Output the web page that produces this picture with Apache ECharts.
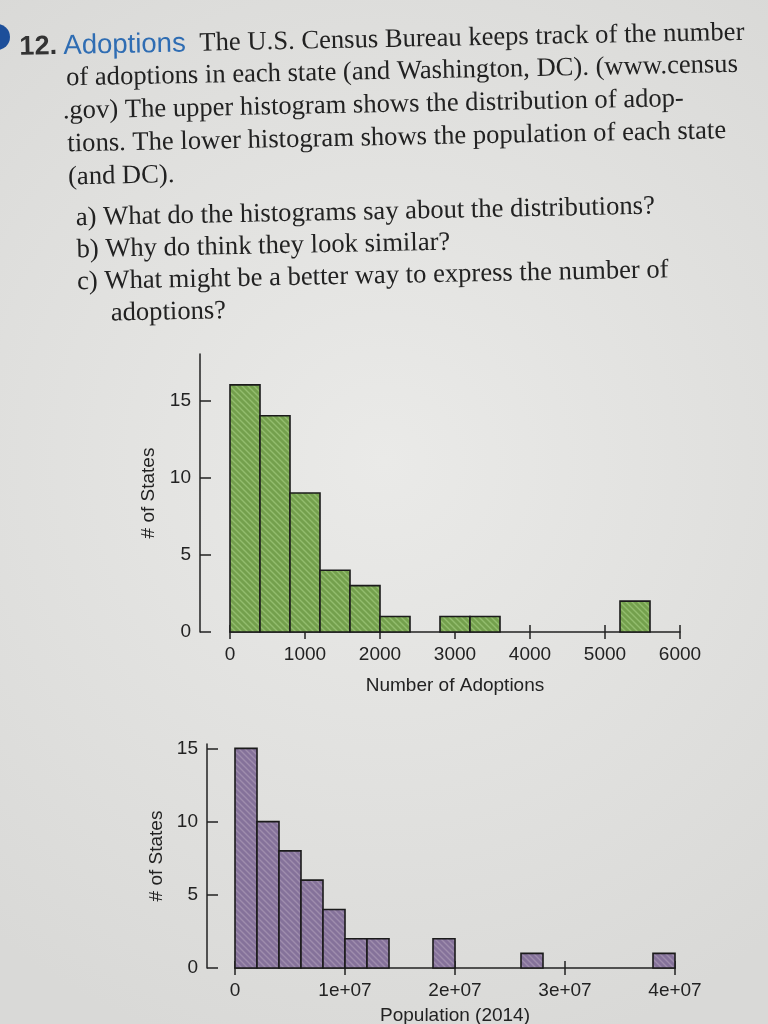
<!DOCTYPE html>
<html><head><meta charset="utf-8">
<script src="https://cdn.jsdelivr.net/npm/echarts@6/dist/echarts.min.js"></script>
<style>html,body{margin:0;padding:0;background:#e4e4e2}#c{width:768px;height:1024px}</style>
</head><body><div id="c"></div><script>
// ---- data ----
const adoptBinStart = [0,400,800,1200,1600,2000,2400,2800,3200,3600,4000,4400,4800,5200];
const adoptCounts   = [16,14,9,4,3,1,0,1,1,0,0,0,0,2];
const adoptBinWidth = 400;
const adoptTicks    = [0,1000,2000,3000,4000,5000,6000];

const popBinStart = [0,2e6,4e6,6e6,8e6,10e6,12e6,14e6,16e6,18e6,20e6,22e6,24e6,26e6,28e6,30e6,32e6,34e6,36e6,38e6];
const popCounts   = [15,10,8,6,4,2,2,0,0,2,0,0,0,1,0,0,0,0,0,1];
const popBinWidth = 2e6;
const popTicks      = [0,1e7,2e7,3e7,4e7];
const popTickLabels = ['0','1e+07','2e+07','3e+07','4e+07'];

const yTicks = [0,5,10,15];

const textLines = [
  'of adoptions in each state (and Washington, DC). (www.census',
  '.gov) The upper histogram shows the distribution of adop-',
  'tions. The lower histogram shows the population of each state',
  '(and DC).'
];
const questions = [
  'a) What do the histograms say about the distributions?',
  'b) Why do think they look similar?',
  'c) What might be a better way to express the number of',
  'adoptions?'
];

// ---- styles ----
function makePattern(bg, stripe){
  const c = document.createElement('canvas'); c.width = 6; c.height = 6;
  const g = c.getContext('2d');
  g.fillStyle = bg; g.fillRect(0,0,6,6);
  g.strokeStyle = stripe; g.lineWidth = 1.4;
  g.beginPath();
  g.moveTo(0,0); g.lineTo(6,6);
  g.moveTo(-3,3); g.lineTo(3,9);
  g.moveTo(3,-3); g.lineTo(9,3);
  g.stroke();
  return c;
}
const greenPat  = makePattern('#74a04d', '#93bd6e');
const purplePat = makePattern('#85729a', '#9f8dad');

const ink = '#222';
const sans = '"Liberation Sans", Arial, sans-serif';
const serif = '"Liberation Serif", "Times New Roman", serif';
const fs = 19;

function histSeries(starts, counts, width, xi, pat){
  return {
    type: 'custom', xAxisIndex: xi, yAxisIndex: xi,
    data: starts.map((s,i)=>[s, s+width, counts[i]]).filter(d=>d[2]>0),
    renderItem: function(params, api){
      const p0 = api.coord([api.value(0), api.value(2)]);
      const p1 = api.coord([api.value(1), 0]);
      return {type:'rect', shape:{x:p0[0], y:p0[1], width:p1[0]-p0[0], height:p1[1]-p0[1]},
        style:{fill:{image:pat, repeat:'repeat'}, stroke:'#1b1b1b', lineWidth:1.6}};
    },
    encode: {x:[0,1], y:2}
  };
}

function xAxes(grid, max, interval, name, nameGap, fmt){
  const base = {gridIndex:grid, type:'value', position:'bottom', min:0, max:max, interval:interval, splitLine:{show:false}};
  return [
    Object.assign({}, base, {
      axisLine:{show:true, onZero:false, lineStyle:{color:ink, width:1.5}},
      axisTick:{show:true, length:7, lineStyle:{color:ink, width:1.5}},
      axisLabel:{margin:13, color:ink, fontFamily:sans, fontSize:fs, formatter:fmt},
      name:name, nameLocation:'middle', nameGap:nameGap,
      nameTextStyle:{color:ink, fontFamily:sans, fontSize:fs}
    }),
    Object.assign({}, base, {
      axisLine:{show:false, onZero:false}, axisLabel:{show:false},
      axisTick:{show:true, inside:true, length:7, lineStyle:{color:ink, width:1.5}}
    })
  ];
}
function yAxis(grid, max, offset, nameGap){
  return {gridIndex:grid, type:'value', position:'left', min:0, max:max, interval:5, offset:offset,
    splitLine:{show:false},
    axisLine:{show:true, onZero:false, lineStyle:{color:ink, width:1.5}},
    axisTick:{show:true, inside:true, length:11, lineStyle:{color:ink, width:1.5}},
    axisLabel:{margin:9, color:ink, fontFamily:sans, fontSize:fs, showMaxLabel:false,
      formatter: v => yTicks.indexOf(v) >= 0 ? String(v) : ''},
    name:'# of States', nameLocation:'middle', nameGap:nameGap,
    nameTextStyle:{color:ink, fontFamily:sans, fontSize:fs}
  };
}

const bodyFont = '26.6px ' + serif;
const textChildren = [
  {type:'text', x:22, y:40, style:{text:'12.', font:'bold 27px "Liberation Sans", Arial, sans-serif', fill:'#333', verticalAlign:'middle'}},
  {type:'text', x:66, y:40, style:{text:'Adoptions', font:'500 27.5px "Liberation Sans", Arial, sans-serif', fill:'#2f6db3', verticalAlign:'middle'}},
  {type:'text', x:202, y:40, style:{text:'The U.S. Census Bureau keeps track of the number', font:bodyFont, fill:ink, verticalAlign:'middle'}}
];
textLines.forEach((t,i)=>{
  textChildren.push({type:'text', x: i===1 ? 64 : 68, y:72+i*33, style:{text:t, font:bodyFont, fill:ink, verticalAlign:'middle'}});
});
questions.forEach((t,i)=>{
  textChildren.push({type:'text', x: i===3 ? 108 : 75, y:212+i*32, style:{text:t, font:bodyFont, fill:ink, verticalAlign:'middle'}});
});

const chart = echarts.init(document.getElementById('c'), null, {renderer:'canvas'});
chart.setOption({
  backgroundColor: {type:'radial', x:0.5, y:0.45, r:0.8, colorStops:[{offset:0,color:'#eaeae8'},{offset:1,color:'#d9d9d7'}]},
  animation:false,
  grid:[{left:230, right:88, top:354, bottom:392, outerBoundsMode:'none', containLabel:false},
        {left:235, right:93, top:744, bottom:56, outerBoundsMode:'none', containLabel:false}],
  xAxis: [].concat(
    xAxes(0, 6000, 1000, 'Number of Adoptions', 44, v => String(v)),
    xAxes(1, 4e7, 1e7, 'Population (2014)', 38, v => { const k = popTicks.indexOf(v); return k>=0 ? popTickLabels[k] : ''; })
  ),
  yAxis: [yAxis(0, 18, 30, 42), yAxis(0, 18, 30, 42), yAxis(1, 15.3, 28, 29), yAxis(1, 15.3, 28, 29)].map((a,i)=>{
    if (i%2===1) { a.show = false; }
    return a;
  }),
  series: [
    histSeries(adoptBinStart, adoptCounts, adoptBinWidth, 0, greenPat),
    histSeries(popBinStart, popCounts, popBinWidth, 2, purplePat)
  ],
  graphic: [
    {type:'circle', shape:{cx:-3, cy:37, r:13}, style:{fill:'#1d4f9a'}},
    {type:'group', x:0, y:0, originX:384, originY:170, rotation:0.02, children:textChildren}
  ]
});
</script></body></html>
